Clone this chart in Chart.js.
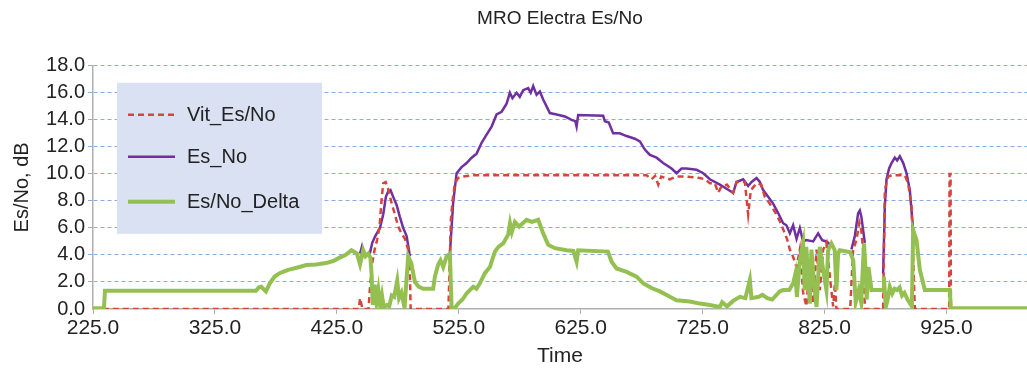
<!DOCTYPE html>
<html>
<head>
<meta charset="utf-8">
<script src="https://cdn.jsdelivr.net/npm/chart.js@4.4.1/dist/chart.umd.min.js"></script>
<style>
  body { margin: 0; background: #fff; }
  canvas { display: block; }
</style>
</head>
<body>
<canvas id="esno" width="1027" height="375"></canvas>
<script>
const xTicks = [225, 325, 425, 525, 625, 725, 825, 925];

// Vit_Es/No (dashed red)
const vitTime = [233, 443, 444, 446, 451, 452, 454, 456, 458, 460, 461.7, 463, 465, 467, 470, 472.6, 475.3, 478, 480.8, 483.5, 484.9, 485.5,
  516.5, 518.5, 520, 521.8, 524.5, 528, 537, 679, 683, 686, 688.6, 691, 698, 703, 712, 722.7, 727, 731, 735, 737.7, 740.5, 745, 750, 752.8,
  759.6, 762.3, 764.5, 769.2, 773, 776, 780, 784.2, 788.3, 792.4, 794.5, 796.5, 799, 802, 804.7, 807.4, 810.1, 812.9, 815.6, 818.4, 821.1,
  823.8, 826.5, 829.3, 832, 833.5, 834.7, 846, 848.4, 851.1, 853.5, 855, 856.6, 858, 873, 874.4, 877.1, 880, 890.8, 893.5, 896.3, 898.2,
  899, 927.2, 927.5, 928.3, 928.6, 991];
const vitValues = [0, 0, 0.8, 0, 0, 1.4, 3.4, 4.4, 5.1, 6.1, 8.1, 9.3, 9.4, 8.9, 7.8, 7.0, 6.1, 5.6, 5.2, 4.4, 2.6, 0,
  0, 6.6, 8.1, 9.3, 9.7, 9.8, 9.9, 9.9, 9.6, 9.85, 9.2, 9.8, 9.6, 9.8, 9.8, 9.7, 9.6, 9.3, 9.3, 8.6, 9.1, 9.2, 8.6, 9.4,
  9.4, 7.0, 8.8, 9.3, 9.2, 8.3, 7.8, 7.2, 6.5, 5.6, 5.1, 4.4, 3.9, 3.1, 4.4, 1.2, 0.2, 3.6, 0.4, 4.4, 1.4,
  4.4, 4.9, 2.4, 0.2, 1.9, 0, 0, 4.4, 5.1, 6.4, 5.9, 4.4, 0, 0, 8.8, 9.8, 9.9, 9.9, 9.3, 7.6, 2.2,
  0, 0, 10.0, 10.0, 0, 0];

// Es_No (purple), null where no lock
const esNoTime = [444, 445.5, 446.5, 448, 452, 454, 456.5, 460.3, 463, 465.2, 467.1, 469, 471.2, 474, 476.7, 479.4, 482.2, 484.9, 486,
  517.7, 520.4, 523.2, 527.3, 531.4, 535.5, 539.6, 543.7, 547.8, 551.9, 556, 560.1, 564.2, 566.9, 569, 572.4, 575, 577.8, 581.9, 584,
  586, 588.8, 591.5, 594.2, 597, 599.7, 605.2, 612, 617.5, 620.5, 621.6, 622.9, 643.4, 644.8, 648, 651.6, 657, 662.6, 669.4, 673.5,
  677.6, 681.7, 687.2, 692.6, 699.5, 703.6, 707.7, 711.8, 720, 725.5, 730.9, 739.1, 744.6, 750, 752.8, 758.2, 762.3, 765.1, 769.2,
  771.9, 774.6, 778.7, 782.8, 786.9, 791, 793.7, 796.5, 799.2, 802, 804.7, 807.4, 810, 815.6, 819.7, 823, 826.5, 830.6, 833,
  847, 849.8, 852.5, 853.9, 855.2, 858, 860, 873, 874.4, 875.8, 877.9, 879.9, 882.6, 884.5, 886.7, 889.5, 892.2, 894.9, 897.6, 899];
const esNoValues = [4.1, 4.6, 4.1, null, 4.1, 4.9, 5.4, 6.0, 7.0, 8.3, 8.7, 8.8, 8.3, 7.7, 6.8, 6.0, 5.4, 3.9, null,
  4.1, 7.9, 10.05, 10.5, 10.8, 11.2, 11.5, 12.3, 12.9, 13.5, 14.4, 14.6, 15.2, 16.0, 15.6, 16.0, 15.7, 16.2, 16.35, 16.0,
  16.5, 15.85, 16.1, 15.5, 15.0, 14.5, 14.4, 14.25, 14.0, 13.9, 13.5, 14.35, 14.3, 13.9, 13.8, 13.0, 13.0, 12.8, 12.6, 12.4,
  11.8, 11.4, 11.2, 10.8, 10.4, 10.05, 10.4, 10.4, 10.3, 10.05, 9.6, 9.2, 8.9, 8.6, 9.4, 9.6, 9.1, 9.4, 9.7,
  9.4, 8.8, 8.3, 7.8, 7.1, 6.35, 6.2, 5.6, 6.2, 5.2, 6.0, 5.0, 5.1, 5.0, 5.6, 5.1, 5.0, 4.7, null,
  4.4, 5.4, 7.1, 7.3, 6.8, 4.9, null, 2.6, 7.6, 9.6, 10.4, 10.8, 11.2, 11.0, 11.3, 10.8, 10.05, 8.8, 5.85, null];

// Es/No_Delta (green)
const deltaTime = [225, 234, 234.8, 358.7, 361, 363, 365, 366.8, 370, 374, 378, 385, 392, 400, 408, 416, 422, 427.3, 432, 437, 441.5,
  444, 446.6, 448.5, 450.8, 452.5, 453.5, 454.5, 456, 457.5, 459, 460.5, 462, 463.5, 466, 468, 470, 472, 474.5, 476, 478, 480.5,
  483.5, 486, 489, 492, 495.8, 504, 505.4, 508.1, 510, 512.2, 515, 517.7, 519.1, 521.5, 524.5, 528, 531.4, 534, 536.9, 539.5,
  542.3, 546.4, 550.5, 554.6, 557.5, 561.4, 565.5, 567, 568.5, 571, 574.5, 580.6, 585, 590.1, 594.2, 598.3, 603.8, 613.4, 619,
  621.6, 622.9, 647.3, 650.3, 654.4, 662.6, 670.8, 676.3, 683.1, 689.9, 698.1, 703.6, 714.5, 722.7, 730.9, 739.1, 741, 745, 750,
  755.5, 760, 763.7, 765, 771, 774, 778, 782, 788.2, 791, 796, 799.2, 801, 802.3, 804.7, 807.4, 808.7, 810, 812.9, 814.2, 816.3,
  818.4, 821.1, 823.8, 826.5, 827.9, 830.6, 833.3, 834.7, 836.1, 837.5, 843, 846, 848.5, 850.5, 853, 855, 857.3, 858.5, 859.5,
  861, 863.5, 873, 873.6, 875.2, 876.5, 878.5, 880.5, 882.5, 884.5, 886.5, 888.5, 890.5, 893, 896.6, 897.6, 900.4, 903.1, 907.2,
  927.7, 928.5, 991];
const deltaValues = [0.05, 0.05, 1.35, 1.35, 1.6, 1.65, 1.45, 1.3, 1.9, 2.4, 2.65, 2.9, 3.05, 3.25, 3.3, 3.4, 3.55, 3.8, 4.0, 4.35, 4.1,
  3.3, 4.35, 3.9, 4.1, 3.8, 2.5, 0.3, 1.8, 0.5, 1.4, 0.2, 1.0, 0.1, 0.3, 0.2, 1.0, 0.9, 2.1, 0.8, 1.2, 0.1,
  3.9, 3.4, 2.0, 1.65, 1.5, 1.5, 2.4, 3.3, 3.6, 3.1, 3.9, 4.1, 0.05, 0.05, 0.4, 0.7, 1.15, 1.4, 1.65, 1.5,
  1.9, 2.65, 3.1, 4.25, 4.6, 4.85, 5.5, 6.35, 5.7, 6.45, 6.1, 6.6, 6.45, 6.6, 5.6, 4.75, 4.5, 4.35, 4.3,
  3.5, 4.35, 4.25, 3.5, 3.0, 2.75, 2.4, 1.9, 1.55, 1.3, 0.9, 0.65, 0.55, 0.4, 0.3, 0.15, 0.5, 0.2, 0.6,
  0.9, 0.8, 2.15, 0.8, 0.9, 1.05, 0.8, 0.7, 1.3, 1.4, 1.4, 1.9, 2.6, 0.9, 3.6, 4.85, 1.4, 4.6, 0.4, 4.4, 1.9,
  0.15, 4.6, 2.9, 1.4, 4.35, 4.85, 4.35, 1.4, 4.1, 4.35, 4.25, 4.2, 3.6, 0.5, 1.4, 0.5, 4.85, 3.1, 0.7,
  3.1, 1.4, 1.4, 2.4, 0.15, 0.6, 1.65, 1.15, 1.5, 1.4, 1.6, 1.0, 1.2, 0.7, 0.2, 5.85, 5.1, 2.9, 1.4,
  1.4, 0.05, 0.05];

function toPoints(times, values) {
  return times.map(function(t, i) { return {x: t, y: values[i]}; });
}

const insetLegend = {
  id: 'insetLegend',
  afterDatasetsDraw(chart) {
    const ctx = chart.ctx;
    const area = chart.chartArea;
    const left = area.left + 24;
    const top = area.top + 17;
    ctx.save();
    ctx.fillStyle = '#d9e1f2';
    ctx.fillRect(left, top, 205, 151);
    const rows = [32, 74, 119];
    chart.data.datasets.forEach(function(ds, i) {
      const y = top + rows[i];
      ctx.beginPath();
      ctx.setLineDash(ds.borderDash || []);
      ctx.lineWidth = ds.borderWidth;
      ctx.strokeStyle = ds.borderColor;
      ctx.moveTo(left + 11, y);
      ctx.lineTo(left + 58, y);
      ctx.stroke();
      ctx.setLineDash([]);
      ctx.fillStyle = '#222';
      ctx.font = '20px "Liberation Sans", Arial, sans-serif';
      ctx.textBaseline = 'middle';
      ctx.fillText(ds.label, left + 70, y + 1);
    });
    ctx.restore();
  }
};

const chart = new Chart(document.getElementById('esno'), {
  type: 'line',
  data: {
    datasets: [
      {
        label: 'Vit_Es/No',
        data: toPoints(vitTime, vitValues),
        borderColor: '#d3463c',
        backgroundColor: '#d3463c',
        borderWidth: 2.5,
        borderDash: [6, 4],
        pointRadius: 0,
        fill: false,
        order: 1
      },
      {
        label: 'Es_No',
        data: toPoints(esNoTime, esNoValues),
        borderColor: '#7030a0',
        backgroundColor: '#7030a0',
        borderWidth: 2.5,
        pointRadius: 0,
        fill: false,
        spanGaps: false,
        order: 2
      },
      {
        label: 'Es/No_Delta',
        data: toPoints(deltaTime, deltaValues),
        borderColor: '#94c052',
        backgroundColor: '#94c052',
        borderWidth: 4,
        pointRadius: 0,
        fill: false,
        order: 0
      }
    ]
  },
  options: {
    responsive: false,
    animation: false,
    layout: { padding: 0 },
    font: { family: '"Liberation Sans", Arial, sans-serif' },
    plugins: {
      legend: { display: false },
      tooltip: { enabled: false },
      title: {
        display: true,
        text: 'MRO Electra Es/No',
        fullSize: false,
        color: '#222',
        font: { size: 19, weight: 'normal' },
        padding: { top: 7, bottom: 36 }
      }
    },
    scales: {
      x: {
        type: 'linear',
        min: 225,
        max: 991,
        afterBuildTicks: function(axis) {
          axis.ticks = xTicks.map(function(v) { return {value: v}; });
        },
        afterFit: function(axis) { axis.height = 66; },
        grid: { drawOnChartArea: false, drawTicks: true, tickLength: 5, color: '#b0b0b0' },
        border: { color: '#b0b0b0', width: 1.5 },
        ticks: {
          autoSkip: false,
          maxRotation: 0,
          padding: 2,
          color: '#222',
          font: { size: 21 },
          callback: function(v) { return v.toFixed(1); }
        },
        title: {
          display: true,
          text: 'Time',
          color: '#222',
          font: { size: 21 },
          padding: { top: 0, bottom: 6 }
        }
      },
      y: {
        min: 0,
        max: 18,
        afterFit: function(axis) { axis.width = 93; },
        grid: {
          color: function(c) { return c.tick && c.tick.value === 0 ? 'rgba(0,0,0,0)' : '#86aee2'; },
          tickLength: 5,
          lineWidth: 1
        },
        border: { color: '#b0b0b0', width: 1.5, dash: [4, 3] },
        ticks: {
          stepSize: 2,
          padding: 3,
          color: '#222',
          font: { size: 20 },
          callback: function(v) { return v.toFixed(1); }
        },
        title: {
          display: true,
          text: 'Es/No, dB',
          color: '#222',
          font: { size: 20 },
          padding: { top: 10, bottom: 0 }
        }
      }
    }
  },
  plugins: [insetLegend]
});
</script>
</body>
</html>
